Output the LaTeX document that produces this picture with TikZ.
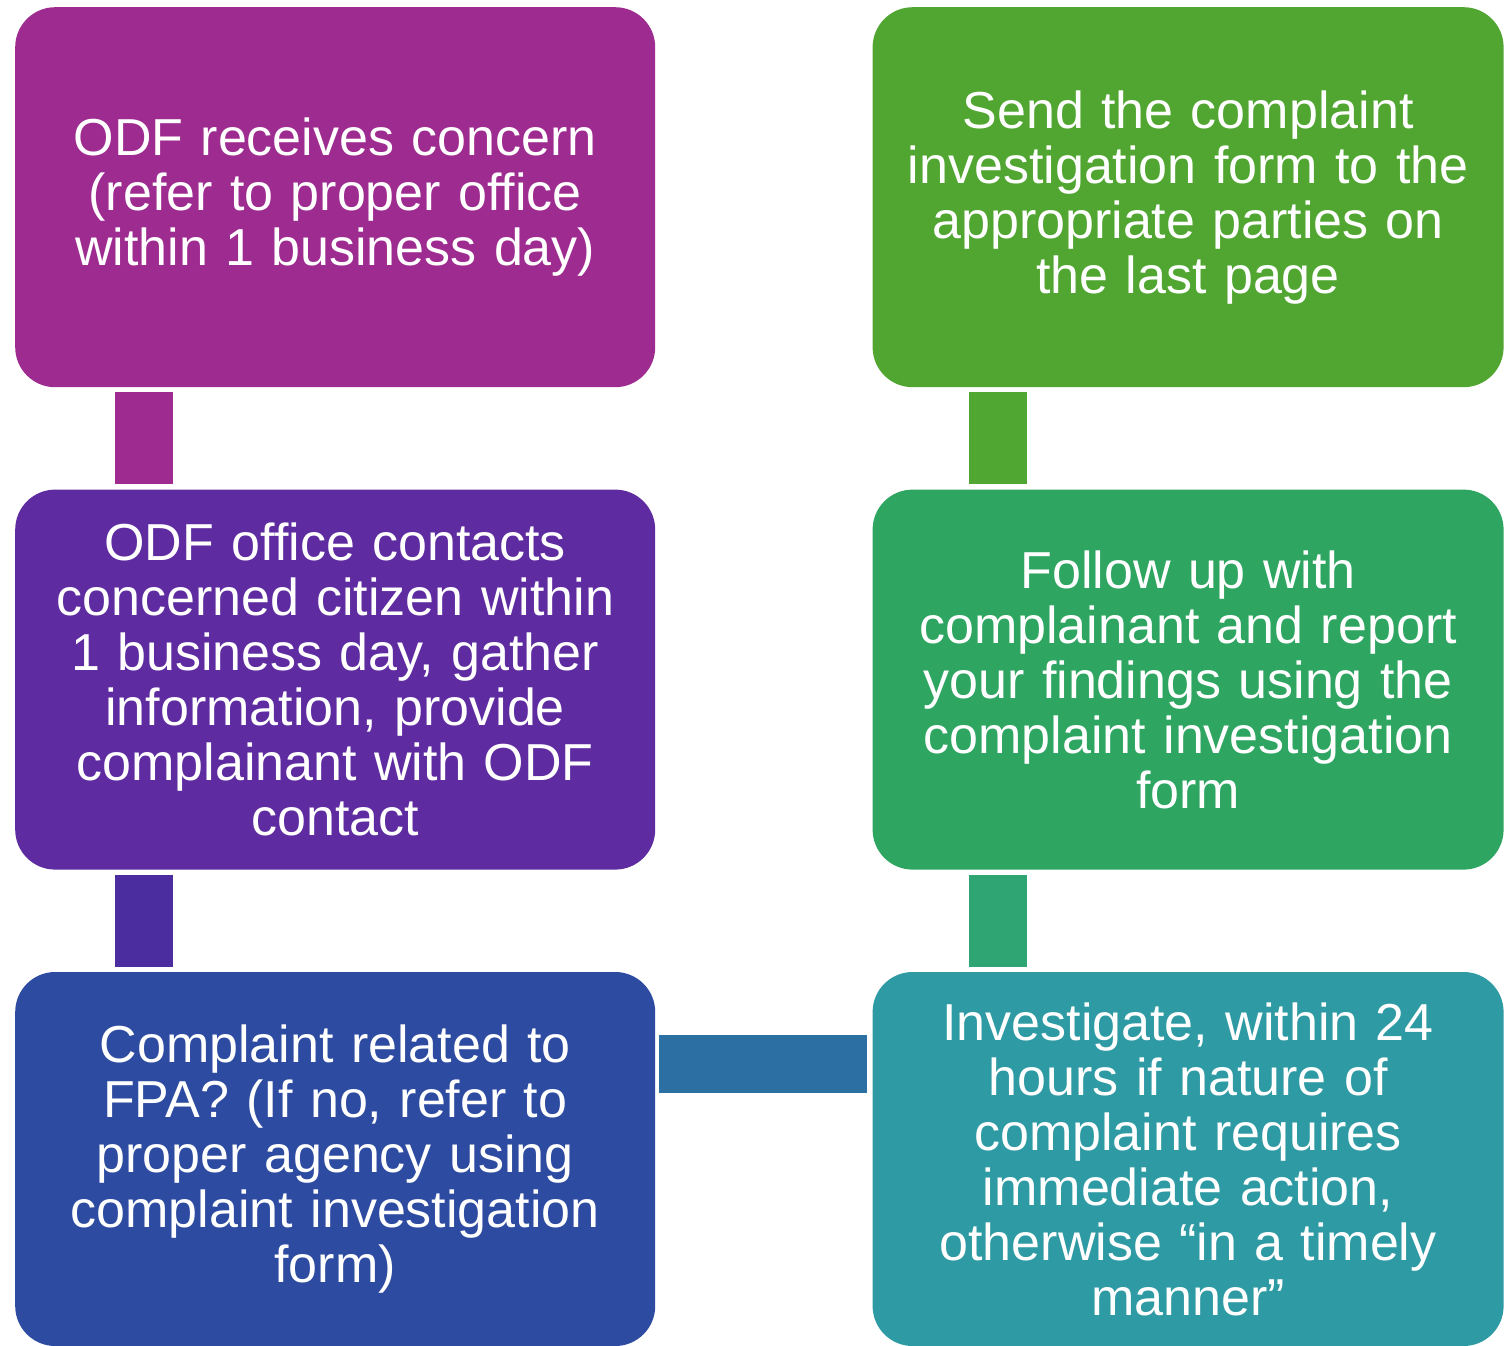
\documentclass[tikz,border=0pt]{standalone}
\usepackage{fontspec}
\setmainfont{Liberation Sans}
\usetikzlibrary{positioning,calc}
\definecolor{stepA}{RGB}{158,43,143}
\definecolor{stepB}{RGB}{94,44,160}
\definecolor{linkB}{RGB}{75,45,160}
\definecolor{stepC}{RGB}{45,75,160}
\definecolor{linkC}{RGB}{44,112,163}
\definecolor{stepD}{RGB}{46,154,163}
\definecolor{linkD}{RGB}{46,165,115}
\definecolor{stepE}{RGB}{46,165,96}
\definecolor{linkE}{RGB}{80,167,50}
\definecolor{stepF}{RGB}{81,166,50}

\begin{document}
\begin{tikzpicture}[
x = 1pt,
y = -1pt,
node distance = 102pt and 217pt,
every node/.style = {
	font = \fontsize{52}{55}\selectfont
},
flowbox/.style = {
	fill = #1,
	rounded corners = 40pt,
	text = white,
	minimum width = 640pt,
	minimum height = 380pt,
	text width = 620pt,
	inner sep = 0pt,
	align = center
},
link/.style = {
	draw = #1,
	line width = 58pt,
	shorten < = 5pt,
	shorten > = 5pt
}
]
\useasboundingbox (0,0) rectangle (1504,1346);

\node [flowbox = stepA, anchor = north west] (receive) at (15,7) {ODF receives concern\\(refer to proper office\\within 1 business day)};
\node [flowbox = stepB, below = of receive] (contact) {ODF office contacts\\concerned citizen within\\1 business day, gather\\information, provide\\complainant with ODF\\contact};
\node [flowbox = stepC, below = of contact, minimum height = 374pt] (fpa) {Complaint related to\\FPA? (If no, refer to\\proper agency using\\complaint investigation\\form)};

\node [flowbox = stepD, right = of fpa, minimum width = 631pt, minimum height = 374pt] (investigate) {Investigate, within 24\\hours if nature of\\complaint requires\\immediate action,\\otherwise “in a timely\\manner”};
\node [flowbox = stepE, above = of investigate, minimum width = 631pt] (followup) {Follow up with\\complainant and report\\your findings using the\\complaint investigation\\form};
\node [flowbox = stepF, above = of followup, minimum width = 631pt] (send) {Send the complaint\\investigation form to the\\appropriate parties on\\the last page};

\draw [link = stepA] ([xshift=129pt]receive.south west) -- ([xshift=129pt]contact.north west);
\draw [link = linkB] ([xshift=129pt]contact.south west) -- ([xshift=129pt]fpa.north west);
\draw [link = linkC, shorten < = 4pt, shorten > = 5pt] ([yshift=-92pt]fpa.north east) -- ([yshift=-92pt]fpa.north east -| investigate.west);
\draw [link = linkD] ([xshift=126pt]investigate.north west) -- ([xshift=126pt]followup.south west);
\draw [link = linkE] ([xshift=126pt]followup.north west) -- ([xshift=126pt]send.south west);

\end{tikzpicture}
\end{document}
